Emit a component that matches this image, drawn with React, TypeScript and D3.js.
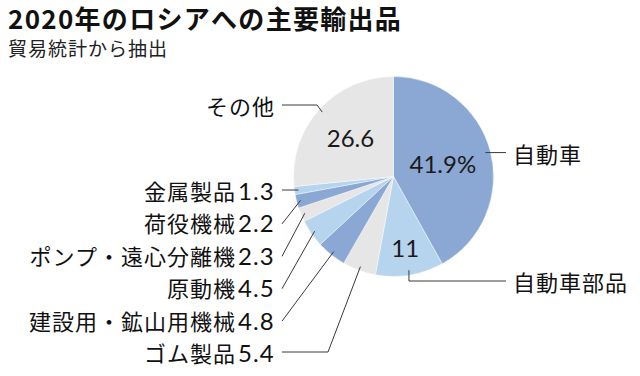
import React from "react";
import * as d3 from "d3";

const categories = ["自動車", "自動車部品", "ゴム製品", "建設用・鉱山用機械", "原動機", "ポンプ・遠心分離機", "荷役機械", "金属製品", "その他"];
const shares = [41.9, 11, 5.4, 4.8, 4.5, 2.3, 2.2, 1.3, 26.6];
const valueLabels = ["41.9%", "11", "5.4", "4.8", "4.5", "2.3", "2.2", "1.3", "26.6"];
const title = "2020年のロシアへの主要輸出品";
const subtitle = "貿易統計から抽出";

const W = 640, H = 376;
const CX = 393.5, CY = 176.5, R = 100;
const COLORS = ["#8aa8d3", "#b7d4ee", "#e6e6e6"];
const JP = "'Noto Sans CJK JP', 'Noto Sans', sans-serif";
const NUM = "Lato, 'Noto Sans', sans-serif";
const LINE = "#3a3a3a";

export default function App() {
  const pie = d3.pie<number>().sort(null).value((d) => d)(shares);
  const arc = d3.arc<d3.PieArcDatum<number>>().innerRadius(0).outerRadius(R);
  const pt = (a: number, r: number) => [CX + r * Math.sin(a), CY - r * Math.cos(a)];
  const mid = (d: d3.PieArcDatum<number>) => (d.startAngle + d.endAngle) / 2;

  const inner: Record<number, number> = { 0: 51, 1: 72, 8: 58 };
  const leftX = 275;
  const lineX = 282;

  return (
    <svg width={W} height={H} style={{ position: "absolute", left: 0, top: 0, background: "#fff" }}>
      <text x={8} y={17.5} fontFamily={JP} fontWeight={700} fontSize={26} letterSpacing={1.3} dominantBaseline="central" fill="#111">{title}</text>
      <text x={8} y={47.5} fontFamily={JP} fontSize={19} letterSpacing={1} dominantBaseline="central" fill="#222">{subtitle}</text>
      <g>
        {pie.map((d, i) => (
          <path key={i} d={arc(d) || ""} transform={`translate(${CX},${CY})`} fill={COLORS[i % 3]} stroke="#ffffff" strokeWidth={0.4} />
        ))}
      </g>
      {pie.map((d, i) => {
        if (inner[i] === undefined) return null;
        const [x, y] = pt(mid(d), inner[i]);
        return (
          <text key={"v" + i} x={x} y={y} textAnchor="middle" dominantBaseline="central" fontFamily={NUM} fontSize={24} fill="#1a1a1a">{valueLabels[i]}</text>
        );
      })}
      {pie.map((d, i) => {
        const a = mid(d);
        const [px, py] = pt(a, 95);
        if (i === 0) {
          return (
            <g key={"l" + i}>
              <polyline points={`${px},${py} 506,${py}`} fill="none" stroke={LINE} strokeWidth={1} />
              <text x={513} y={py} dominantBaseline="central" fontFamily={JP} fontSize={22} letterSpacing={1} fill="#111">{categories[i]}</text>
            </g>
          );
        }
        if (i === 1) {
          const ly = 281;
          return (
            <g key={"l" + i}>
              <polyline points={`${px},${py} ${px},${ly} 506,${ly}`} fill="none" stroke={LINE} strokeWidth={1} />
              <text x={513} y={ly} dominantBaseline="central" fontFamily={JP} fontSize={22} letterSpacing={1} fill="#111">{categories[i]}</text>
            </g>
          );
        }
        if (i === 8) {
          const ly = 105;
          const [qx, qy] = pt(a, 96);
          return (
            <g key={"l" + i}>
              <polyline points={`${qx},${qy} 317,${ly} 282,${ly}`} fill="none" stroke={LINE} strokeWidth={1} />
              <text x={leftX} y={ly} textAnchor="end" dominantBaseline="central" fontFamily={JP} fontSize={22} letterSpacing={1} fill="#111">{categories[i]}</text>
            </g>
          );
        }
        const k = 7 - i;
        const ly = 190 + k * 32.4;
        const [qx, qy] = pt(a, 96);
        const pts = i === 2 ? `${qx},${qy} 328,${ly} ${lineX},${ly}` : `${qx},${qy} ${lineX},${ly + (i === 7 ? 0 : 1.5)}`;
        return (
          <g key={"l" + i}>
            <polyline points={pts} fill="none" stroke={LINE} strokeWidth={1} />
            <text x={leftX} y={ly} textAnchor="end" dominantBaseline="central" fontFamily={JP} fontSize={22} letterSpacing={1} fill="#111">
              {categories[i]}
              <tspan dx={2} fontFamily={NUM} fontSize={24} letterSpacing={1.2}>{valueLabels[i]}</tspan>
            </text>
          </g>
        );
      })}
    </svg>
  );
}
